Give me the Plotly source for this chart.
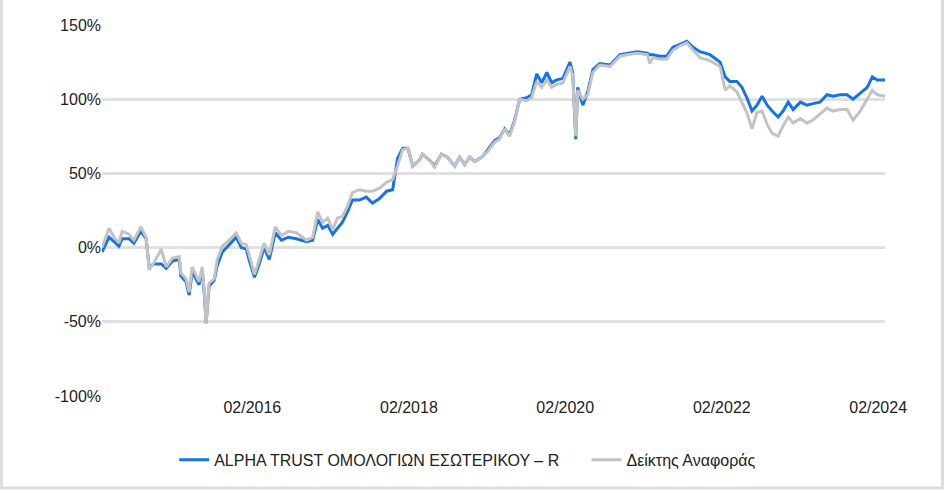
import plotly.graph_objects as go

dates = [
    "2014-03-01", "2014-04-03", "2014-04-26", "2014-05-19", "2014-06-03", "2014-07-05", "2014-07-28",
    "2014-08-30", "2014-09-23", "2014-10-07", "2014-10-30", "2014-12-03", "2014-12-26", "2015-01-24",
    "2015-02-25", "2015-03-04", "2015-03-28", "2015-04-12", "2015-04-26", "2015-05-13", "2015-05-28",
    "2015-06-12", "2015-06-21", "2015-06-30", "2015-07-14", "2015-08-07", "2015-08-21", "2015-09-14",
    "2015-10-16", "2015-11-18", "2015-12-11", "2016-01-04", "2016-01-18", "2016-02-11", "2016-03-04",
    "2016-03-27", "2016-04-20", "2016-05-18", "2016-06-16", "2016-07-18", "2016-08-25", "2016-10-11",
    "2016-11-09", "2016-12-02", "2016-12-25", "2017-01-18", "2017-02-10", "2017-03-04", "2017-03-27",
    "2017-04-20", "2017-05-13", "2017-06-15", "2017-07-17", "2017-08-15", "2017-09-17", "2017-10-20",
    "2017-11-17", "2017-12-10", "2018-01-03", "2018-01-27", "2018-02-19", "2018-03-22", "2018-04-05",
    "2018-05-08", "2018-06-01", "2018-07-03", "2018-07-31", "2018-09-03", "2018-09-26", "2018-10-19",
    "2018-11-12", "2018-12-05", "2019-01-08", "2019-02-05", "2019-03-08", "2019-03-31", "2019-04-24",
    "2019-05-17", "2019-06-10", "2019-07-03", "2019-08-05", "2019-08-28", "2019-09-21", "2019-10-14",
    "2019-11-07", "2019-11-30", "2019-12-23", "2020-01-21", "2020-02-23", "2020-03-07", "2020-03-21",
    "2020-03-30", "2020-04-23", "2020-05-16", "2020-06-09", "2020-07-11", "2020-08-28", "2020-10-14",
    "2020-11-16", "2021-01-02", "2021-02-18", "2021-03-02", "2021-03-16", "2021-04-18", "2021-05-20",
    "2021-06-18", "2021-07-20", "2021-08-22", "2021-09-20", "2021-10-22", "2021-12-08", "2022-01-24",
    "2022-02-17", "2022-03-10", "2022-04-12", "2022-05-06", "2022-05-29", "2022-06-22", "2022-07-15",
    "2022-08-08", "2022-09-01", "2022-09-24", "2022-10-22", "2022-11-14", "2022-12-08", "2022-12-31",
    "2023-02-03", "2023-03-05", "2023-04-03", "2023-05-05", "2023-06-07", "2023-07-05", "2023-08-07",
    "2023-09-09", "2023-10-07", "2023-11-09", "2023-12-12", "2024-01-05", "2024-01-28", "2024-03-04",
]

fund = [
    -3, 7, 4, 1, 6, 6, 3,
    11, 6, -13, -11, -11, -14, -9,
    -8, -19, -23, -32, -16, -21, -25,
    -15, -30, -51, -26, -22, -12, -3,
    2, 7, 0, -1, -9, -20, -11,
    0, -8, 10, 5, 7, 6, 4,
    5, 19, 13, 15, 9, 13, 17,
    24, 32, 32, 34, 30, 33, 38,
    39, 60, 67, 67, 55, 59, 63,
    59, 55, 63, 61, 55, 61, 56,
    61, 58, 61, 66, 72, 74, 80,
    76, 86, 100, 101, 103, 117, 111,
    118, 111, 113, 114, 125, 118, 73,
    108, 96, 105, 120, 124, 123, 130,
    131, 132, 131, 130, 130, 129, 129,
    135, 137, 139, 135, 132, 130, 125,
    115, 112, 112, 108, 101, 92, 96,
    102, 96, 92, 88, 92, 98, 93,
    98, 96, 97, 98, 103, 102, 103,
    103, 100, 104, 108, 115, 113, 113,
]

benchmark = [
    0, 13, 7, 3, 11, 9, 5,
    14, 7, -15, -10, -1, -13, -7,
    -6, -17, -21, -30, -13, -19, -23,
    -13, -28, -51, -24, -21, -8, 1,
    5, 10, 3, 2, -6, -18, -8,
    3, -5, 14, 8, 11, 10, 5,
    7, 24, 17, 20, 12, 20, 21,
    28, 37, 39, 38, 38, 40, 44,
    46, 55, 66, 67, 55, 59, 63,
    59, 54, 63, 61, 55, 61, 56,
    61, 58, 61, 65, 71, 73, 80,
    75, 85, 100, 99, 101, 112, 108,
    113, 108, 110, 111, 122, 116, 75,
    106, 100, 103, 118, 123, 122, 129,
    130, 131, 130, 124, 128, 127, 127,
    133, 136, 138, 133, 128, 126, 122,
    106, 109, 105, 98, 91, 80, 91,
    92, 83, 77, 75, 82, 88, 84,
    87, 84, 86, 90, 94, 92, 93,
    93, 86, 92, 100, 106, 103, 102,
]

series_names = ["ALPHA TRUST ΟΜΟΛΟΓΙΩΝ ΕΣΩΤΕΡΙΚΟΥ – R", "Δείκτης Αναφοράς"]
y_ticks = [-100, -50, 0, 50, 100, 150]
y_tick_labels = ["-100%", "-50%", "0%", "50%", "100%", "150%"]
x_ticks = ["2016-02-01", "2018-02-01", "2020-02-01", "2022-02-01", "2024-02-01"]
x_tick_labels = ["02/2016", "02/2018", "02/2020", "02/2022", "02/2024"]

FONT = "Liberation Sans, Arial, sans-serif"
PAD = "\u00a0" * 5

fig = go.Figure()
fig.add_trace(go.Scatter(
    x=dates, y=fund, mode="lines", name=series_names[0] + PAD,
    line=dict(color="#1473e6", width=3),
))
fig.add_trace(go.Scatter(
    x=dates, y=benchmark, mode="lines", name=series_names[1],
    line=dict(color="#c3c3c3", width=3),
))

fig.update_layout(
    width=944, height=490,
    margin=dict(l=102, r=59, t=25, b=94),
    paper_bgcolor="white", plot_bgcolor="white",
    font=dict(family=FONT, size=16, color="#222222"),
    showlegend=True,
    legend=dict(orientation="h", x=0.467, xanchor="center", y=-0.172, yanchor="middle",
                font=dict(size=16, color="#222222"), bgcolor="rgba(0,0,0,0)"),
    xaxis=dict(
        type="date", range=["2014-03-01", "2024-03-04"],
        tickmode="array", tickvals=x_ticks, ticktext=x_tick_labels,
        showgrid=False, zeroline=False, showline=False, ticks="",
        tickfont=dict(size=16, color="#222222"),
    ),
    yaxis=dict(
        range=[-100, 150], tickmode="array", tickvals=y_ticks, ticktext=y_tick_labels,
        showgrid=True, gridcolor="#e0e0e0", gridwidth=3, zeroline=False, showline=False,
        ticks="", tickfont=dict(size=16, color="#222222"),
    ),
    shapes=[dict(type="rect", xref="paper", yref="paper",
                 x0=-0.1284, x1=1.0734, y0=-0.248, y1=1.3,
                 line=dict(color="#dddddd", width=3), layer="below")],
)

fig.write_html("out.html", config={"displayModeBar": False},
               post_script="document.body.style.margin='0';")
